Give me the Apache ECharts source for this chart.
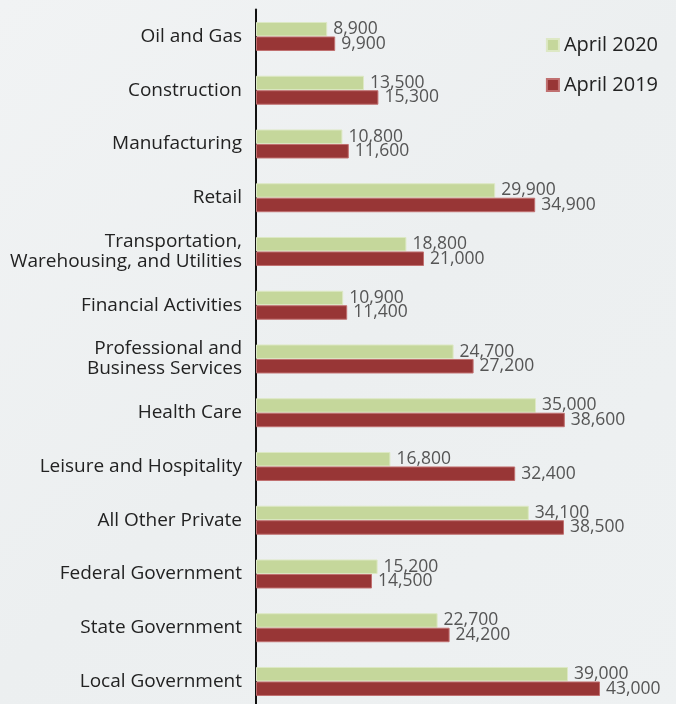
<!DOCTYPE html>
<html><head><meta charset="utf-8">
<script src="https://cdn.jsdelivr.net/npm/echarts@6/dist/echarts.min.js"></script>
<style>html,body{margin:0;padding:0;background:#eef1f2;overflow:hidden;}#c{width:676px;height:720px;}</style>
</head><body><div id="c"></div>
<script>
const categories = ["Oil and Gas","Construction","Manufacturing","Retail","Transportation,\nWarehousing, and Utilities","Financial Activities","Professional and\nBusiness Services","Health Care","Leisure and Hospitality","All Other Private","Federal Government","State Government","Local Government"];
const april2020 = [8900,13500,10800,29900,18800,10900,24700,35000,16800,34100,15200,22700,39000];
const april2019 = [9900,15300,11600,34900,21000,11400,27200,38600,32400,38500,14500,24200,43000];
const seriesNames = ["April 2020","April 2019"];

const chart = echarts.init(document.getElementById('c'), null, {renderer:'canvas'});
const fmt = p => p.value.toLocaleString('en-US');
const lbl = {show:true, position:'right', distance:6, color:'#555', fontFamily:'Open Sans', fontSize:17.5, formatter:fmt};
chart.setOption({
  backgroundColor: {type:'linear',x:0,y:0,x2:1,y2:1,colorStops:[{offset:0,color:'#f1f3f4'},{offset:0.5,color:'#eceff0'},{offset:1,color:'#eef1f2'}]},
  animation:false,
  legend:{orient:'vertical', right:13, top:30, itemWidth:12, itemHeight:12, itemGap:20, icon:'rect',
    textStyle:{fontFamily:'Open Sans', fontSize:20, color:'#222'}, data:seriesNames},
  grid:{left:256, right:20, top:9.6, height:698.75},
  xAxis:{type:'value', min:0, max:50000, show:false},
  yAxis:{type:'category', inverse:true, data:categories,
    axisLine:{show:true, lineStyle:{color:'#111', width:2}}, axisTick:{show:false},
    axisLabel:{margin:14, fontFamily:'Open Sans', fontSize:19, color:'#222', lineHeight:20, padding:[6,0,0,0]}},
  series:[
    {name:seriesNames[0], type:'bar', data:april2020, barWidth:14.5, barGap:'0%',
     itemStyle:{color:'#c5d79b', borderColor:'#dde8c4', borderWidth:1}, label:lbl},
    {name:seriesNames[1], type:'bar', data:april2019, barWidth:14.5,
     itemStyle:{color:'#983636', borderColor:'#c07070', borderWidth:1}, label:lbl}
  ]
});
</script></body></html>
